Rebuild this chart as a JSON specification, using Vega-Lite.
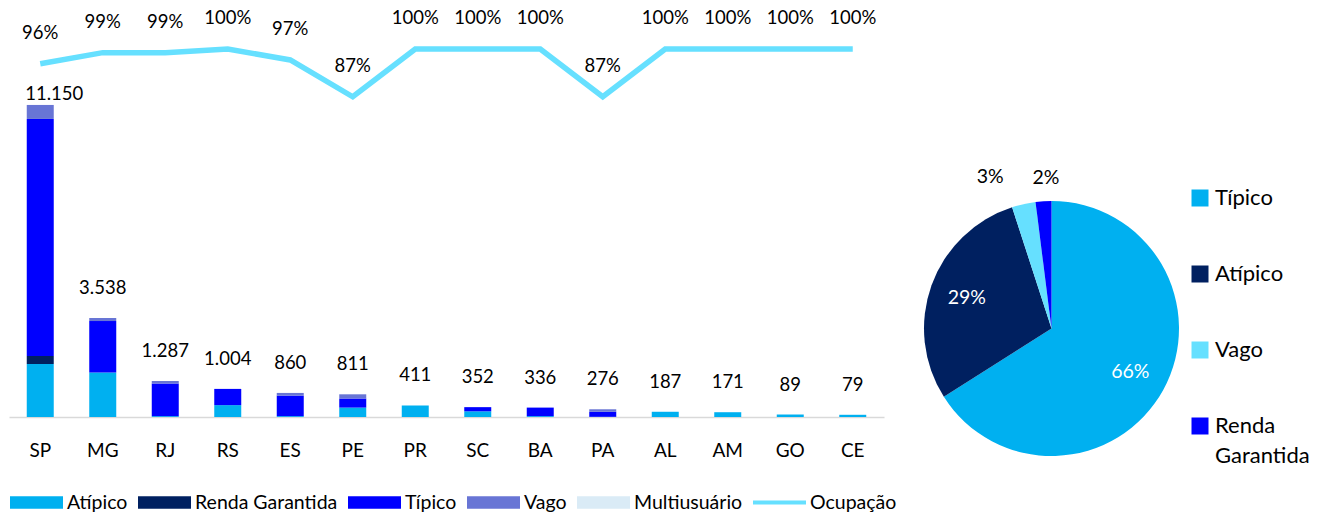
{
  "$schema": "https://vega.github.io/schema/vega-lite/v6.json",
  "padding": {"left": 9, "top": 0, "right": 0, "bottom": 0},
  "bounds": "flush",
  "config": {
    "view": {"stroke": null},
    "font": "Lato",
    "text": {"font": "Lato", "color": "#000000"},
    "locale": {"number": {"decimal": ",", "thousands": ".", "grouping": [3], "currency": ["R$", ""]}}
  },
  "datasets": {
    "barras": [
      {"uf": "SP", "tipo": "Atípico", "valor": 1894},
      {"uf": "SP", "tipo": "Renda Garantida", "valor": 286},
      {"uf": "SP", "tipo": "Típico", "valor": 8470},
      {"uf": "SP", "tipo": "Vago", "valor": 500},
      {"uf": "MG", "tipo": "Atípico", "valor": 1588},
      {"uf": "MG", "tipo": "Típico", "valor": 1840},
      {"uf": "MG", "tipo": "Vago", "valor": 110},
      {"uf": "RJ", "tipo": "Atípico", "valor": 30},
      {"uf": "RJ", "tipo": "Típico", "valor": 1167},
      {"uf": "RJ", "tipo": "Vago", "valor": 90},
      {"uf": "RS", "tipo": "Atípico", "valor": 424},
      {"uf": "RS", "tipo": "Típico", "valor": 580},
      {"uf": "ES", "tipo": "Atípico", "valor": 30},
      {"uf": "ES", "tipo": "Típico", "valor": 735},
      {"uf": "ES", "tipo": "Vago", "valor": 95},
      {"uf": "PE", "tipo": "Atípico", "valor": 336},
      {"uf": "PE", "tipo": "Típico", "valor": 325},
      {"uf": "PE", "tipo": "Vago", "valor": 150},
      {"uf": "PR", "tipo": "Atípico", "valor": 411},
      {"uf": "SC", "tipo": "Atípico", "valor": 203},
      {"uf": "SC", "tipo": "Típico", "valor": 149},
      {"uf": "BA", "tipo": "Atípico", "valor": 30},
      {"uf": "BA", "tipo": "Típico", "valor": 306},
      {"uf": "PA", "tipo": "Atípico", "valor": 6},
      {"uf": "PA", "tipo": "Típico", "valor": 180},
      {"uf": "PA", "tipo": "Vago", "valor": 90},
      {"uf": "AL", "tipo": "Atípico", "valor": 187},
      {"uf": "AM", "tipo": "Atípico", "valor": 171},
      {"uf": "GO", "tipo": "Atípico", "valor": 89},
      {"uf": "CE", "tipo": "Atípico", "valor": 79}
    ],
    "ocupacao": [
      {"uf": "SP", "occ": 0.96},
      {"uf": "MG", "occ": 0.99},
      {"uf": "RJ", "occ": 0.99},
      {"uf": "RS", "occ": 1.0},
      {"uf": "ES", "occ": 0.97},
      {"uf": "PE", "occ": 0.87},
      {"uf": "PR", "occ": 1.0},
      {"uf": "SC", "occ": 1.0},
      {"uf": "BA", "occ": 1.0},
      {"uf": "PA", "occ": 0.87},
      {"uf": "AL", "occ": 1.0},
      {"uf": "AM", "occ": 1.0},
      {"uf": "GO", "occ": 1.0},
      {"uf": "CE", "occ": 1.0}
    ],
    "pizza": [
      {"tipo": "Típico", "pct": 0.66},
      {"tipo": "Atípico", "pct": 0.29},
      {"tipo": "Vago", "pct": 0.03},
      {"tipo": "Renda Garantida", "pct": 0.02}
    ]
  },
  "spacing": 40,
  "hconcat": [
    {
      "width": 875,
      "height": 417,
      "layer": [
        {
          "data": {"name": "barras"},
          "mark": {"type": "bar", "width": 27, "strokeWidth": 0},
          "encoding": {
            "x": {
              "field": "uf", "type": "nominal",
              "sort": ["SP","MG","RJ","RS","ES","PE","PR","SC","BA","PA","AL","AM","GO","CE"],
              "scale": {"paddingInner": 0.57, "paddingOuter": 0.285},
              "axis": {"title": null, "labelAngle": 0, "labelFont": "Lato", "labelFontSize": 19, "labelColor": "#000000", "ticks": false, "labelPadding": 24, "domainColor": "#D9D9D9", "domainWidth": 1.5}
            },
            "y": {"field": "valor", "type": "quantitative", "stack": "zero", "scale": {"domain": [0, 14900]}, "axis": null},
            "color": {
              "field": "tipo", "type": "nominal",
              "scale": {
                "domain": ["Atípico", "Renda Garantida", "Típico", "Vago", "Multiusuário", "Ocupação"],
                "range": ["#00B0F0", "#002060", "#0000FF", "#6875D5", "#DAEBF6", "#66E0FF"]
              },
              "legend": {
                "orient": "none", "legendX": 1, "legendY": 476, "direction": "horizontal",
                "title": null, "labelFont": "Lato", "labelFontSize": 19.5, "labelColor": "#000000",
                "columnPadding": 10, "labelOffset": 4, "padding": 0,
                "symbolSize": 2809, "symbolType": "M-1,-0.24H1V0.24H-1Z", "symbolStrokeWidth": 0, "symbolOpacity": 1,
                "encode": {"symbols": {"update": {"shape": {"signal": "datum.label === 'Ocupação' ? 'M-1,-0.08H1V0.08H-1Z' : 'M-1,-0.24H1V0.24H-1Z'"}}}}
              }
            },
            "order": {"field": "tipo", "sort": "ascending"}
          }
        },
        {
          "data": {"name": "barras"},
          "transform": [
            {"aggregate": [{"op": "sum", "field": "valor", "as": "total"}], "groupby": ["uf"]},
            {"filter": "datum.uf === 'SP'"}
          ],
          "mark": {"type": "text", "dy": -11, "dx": 14, "fontSize": 18.5},
          "encoding": {
            "x": {"field": "uf", "type": "nominal", "sort": ["SP","MG","RJ","RS","ES","PE","PR","SC","BA","PA","AL","AM","GO","CE"]},
            "y": {"field": "total", "type": "quantitative", "scale": {"domain": [0, 14900]}, "axis": null},
            "text": {"field": "total", "type": "quantitative", "format": ",d"}
          }
        },
        {
          "data": {"name": "barras"},
          "transform": [
            {"aggregate": [{"op": "sum", "field": "valor", "as": "total"}], "groupby": ["uf"]},
            {"filter": "datum.uf !== 'SP'"}
          ],
          "mark": {"type": "text", "dy": -30, "fontSize": 18.5},
          "encoding": {
            "x": {"field": "uf", "type": "nominal", "sort": ["SP","MG","RJ","RS","ES","PE","PR","SC","BA","PA","AL","AM","GO","CE"]},
            "y": {"field": "total", "type": "quantitative", "scale": {"domain": [0, 14900]}, "axis": null},
            "text": {"field": "total", "type": "quantitative", "format": ",d"}
          }
        },
        {
          "data": {"name": "ocupacao"},
          "mark": {"type": "line", "strokeWidth": 5.5},
          "encoding": {
            "x": {"field": "uf", "type": "nominal", "sort": ["SP","MG","RJ","RS","ES","PE","PR","SC","BA","PA","AL","AM","GO","CE"]},
            "y": {"field": "occ", "type": "quantitative", "scale": {"domain": [0, 1.133]}, "axis": null},
            "color": {"datum": "Ocupação"}
          }
        },
        {
          "data": {"name": "ocupacao"},
          "mark": {"type": "text", "dy": -31, "fontSize": 18.5},
          "encoding": {
            "x": {"field": "uf", "type": "nominal", "sort": ["SP","MG","RJ","RS","ES","PE","PR","SC","BA","PA","AL","AM","GO","CE"]},
            "y": {"field": "occ", "type": "quantitative", "scale": {"domain": [0, 1.133]}, "axis": null},
            "text": {"field": "occ", "type": "quantitative", "format": ".0%"}
          }
        }
      ],
      "resolve": {"scale": {"y": "independent"}}
    },
    {
      "spacing": 0,
      "bounds": "flush",
      "vconcat": [
        {
          "width": 255,
          "height": 201,
          "data": {"values": [{"vazio": ""}]},
          "mark": {"type": "text"},
          "encoding": {"text": {"field": "vazio", "type": "nominal"}}
        },
        {
          "width": 255,
          "height": 255,
          "data": {"name": "pizza"},
          "layer": [
            {
              "mark": {"type": "arc", "outerRadius": 127.5, "strokeWidth": 0},
              "encoding": {
                "theta": {"field": "pct", "type": "quantitative", "stack": true},
                "order": {"field": "pct", "sort": "descending"},
                "color": {
                  "field": "tipo", "type": "nominal",
                  "scale": {"domain": ["Típico", "Atípico", "Vago", "Renda Garantida"], "range": ["#00B0F0", "#002060", "#66E0FF", "#0000FF"]},
                  "legend": {
                    "orient": "none", "legendX": 265, "legendY": 187, "title": null,
                    "labelFont": "Lato", "labelFontSize": 22, "labelColor": "#000000", "labelOffset": 4,
                    "symbolType": "square", "symbolSize": 289, "symbolStrokeWidth": 0, "symbolOpacity": 1,
                    "rowPadding": 54, "padding": 0,
                    "labelExpr": "datum.label === 'Renda Garantida' ? ['Renda', 'Garantida'] : datum.label",
                    "encode": {"labels": {"update": {"lineHeight": {"value": 30}}}}
                  }
                }
              }
            },
            {
              "mark": {"type": "text", "radius": 90, "fontSize": 19.5, "color": "#FFFFFF"},
              "encoding": {
                "theta": {"field": "pct", "type": "quantitative", "stack": true},
                "order": {"field": "pct", "sort": "descending"},
                "text": {"condition": {"test": "datum.pct < 0.1", "value": ""}, "field": "pct", "type": "quantitative", "format": ".0%"}
              }
            },
            {
              "mark": {"type": "text", "radius": 155, "fontSize": 19.5, "align": "right", "dx": -14, "color": "#000000"},
              "encoding": {
                "theta": {"field": "pct", "type": "quantitative", "stack": true},
                "order": {"field": "pct", "sort": "descending"},
                "text": {"condition": {"test": "datum.pct < 0.025 || datum.pct > 0.1", "value": ""}, "field": "pct", "type": "quantitative", "format": ".0%"}
              }
            },
            {
              "mark": {"type": "text", "radius": 151, "fontSize": 19.5, "dx": 4, "color": "#000000"},
              "encoding": {
                "theta": {"field": "pct", "type": "quantitative", "stack": true},
                "order": {"field": "pct", "sort": "descending"},
                "text": {"condition": {"test": "datum.pct >= 0.025", "value": ""}, "field": "pct", "type": "quantitative", "format": ".0%"}
              }
            }
          ]
        }
      ]
    }
  ],
  "resolve": {"scale": {"color": "independent"}, "legend": {"color": "independent"}}
}
